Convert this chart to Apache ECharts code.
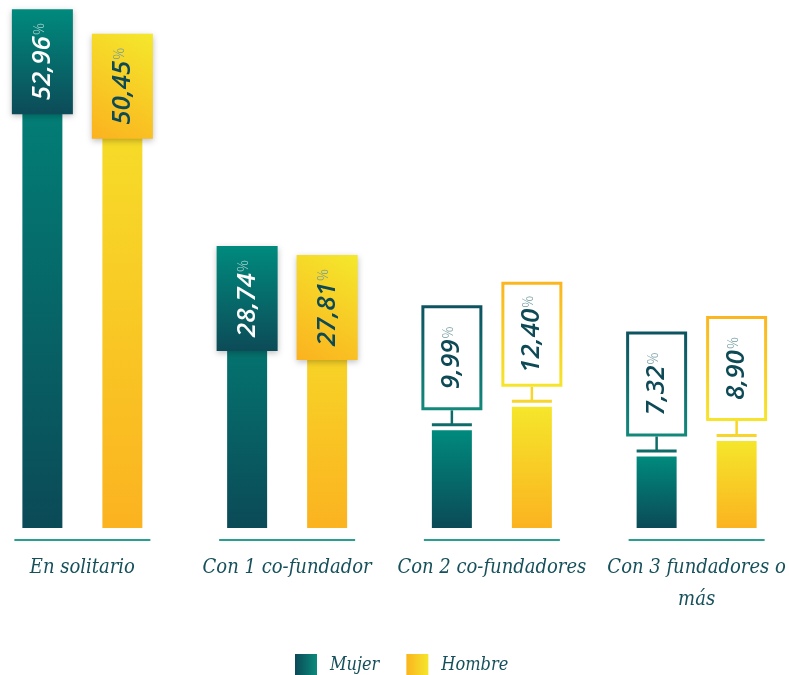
<!DOCTYPE html>
<html>
<head>
<meta charset="utf-8">
<title>Fundadores por género</title>
<script src="https://cdn.jsdelivr.net/npm/echarts@6/dist/echarts.min.js"></script>
<style>
    html, body { margin: 0; padding: 0; background: #fff; }
    #chart { width: 789px; height: 675px; }
</style>
</head>
<body>
<div id="chart"></div>
<script>
var categories = ['En solitario', 'Con 1 co-fundador', 'Con 2 co-fundadores', 'Con 3 fundadores o\nmás'];
var mujer = [52.96, 28.74, 9.99, 7.32];
var hombre = [50.45, 27.81, 12.40, 8.90];

var TEAL_TOP = '#008a7d', TEAL_BOT = '#0b4a57';
var YEL_TOP = '#f5e62b', YEL_BOT = '#fbb320';
var INK = '#16505b';
var SERIF = '"DejaVu Serif Condensed", "DejaVu Serif", serif';

function vgrad(a, b) {
    return new echarts.graphic.LinearGradient(0, 0, 0, 1, [{offset: 0, color: a}, {offset: 1, color: b}]);
}
function hgrad(a, b) {
    return new echarts.graphic.LinearGradient(0, 0, 1, 0, [{offset: 0, color: a}, {offset: 1, color: b}]);
}

function fmt(v) {
    return v.toFixed(2).replace('.', ',');
}

// value boxes drawn on top of / above each bar
function labelSeries(name, values, side) {
    var isM = side === 0;
    return {
        name: name,
        type: 'custom',
        z: 5,
        silent: true,
        data: values.map(function (v, i) { return [i, v]; }),
        renderItem: function (params, api) {
            var v = api.value(1);
            var p = api.coord([api.value(0), v]);
            var cx = p[0] + (isM ? -40 : 40);
            var top = p[1];
            var w = 61, h = 105;
            var filled = v > 20;
            var children = [];
            var boxY;
            if (filled) {
                boxY = top - 1;
                children.push({
                    type: 'rect',
                    shape: {x: cx - w / 2, y: boxY, width: w, height: h},
                    style: {
                        fill: isM ? vgrad('#008a7d', '#0c4b58')
                                  : new echarts.graphic.LinearGradient(1, 0, 0, 1, [{offset: 0, color: '#f4e82c'}, {offset: 1, color: '#fbb21f'}]),
                        shadowBlur: 6, shadowOffsetY: 2, shadowColor: 'rgba(0,0,0,0.25)'
                    }
                });
            } else {
                var bottom = top - 20;
                boxY = bottom - h;
                var lineCol = isM ? '#0f6b69' : '#f8d52a';
                children.push({
                    type: 'line',
                    shape: {x1: cx, y1: bottom, x2: cx, y2: top - 6},
                    style: {stroke: lineCol, lineWidth: 2.5}
                });
                children.push({
                    type: 'line',
                    shape: {x1: cx - 20, y1: top - 5.5, x2: cx + 20, y2: top - 5.5},
                    style: {stroke: lineCol, lineWidth: 3}
                });
                children.push({
                    type: 'rect',
                    shape: {x: cx - w / 2 + 1.5, y: boxY + 1.5, width: w - 3, height: h - 3},
                    style: {
                        fill: '#fff',
                        stroke: isM ? vgrad('#0d5360', '#12897b') : vgrad('#fbb520', '#f5e52b'),
                        lineWidth: 3
                    }
                });
            }
            var numCol = (filled && isM) ? '#ffffff' : '#0d4a56';
            var pctCol = (filled && isM) ? 'rgba(255,255,255,0.65)' : '#6f9a9e';
            children.push({
                type: 'text',
                x: cx,
                y: boxY + h / 2,
                rotation: Math.PI / 2,
                style: {
                    text: '{n|' + fmt(v) + '}{p|%}',
                    align: 'center',
                    verticalAlign: 'middle',
                    rich: {
                        n: {fontFamily: '"Open Sans", sans-serif', fontStyle: 'italic', fontWeight: 600, fontSize: 26, fill: numCol, verticalAlign: 'middle'},
                        p: {fontFamily: '"Open Sans", sans-serif', fontWeight: 300, fontSize: 15, fill: pctCol, verticalAlign: 'middle', padding: [0, 0, 6, 1]}
                    }
                }
            });
            return {type: 'group', children: children};
        }
    };
}

var chart = echarts.init(document.getElementById('chart'));

chart.setOption({
    animation: false,
    grid: {left: -20, right: -10, top: 0, bottom: 147, containLabel: false, outerBoundsMode: 'none'},
    legend: {
        left: 295,
        top: 654,
        padding: 0,
        itemWidth: 22,
        itemHeight: 22,
        itemGap: 27,
        icon: 'rect',
        textStyle: {fontFamily: SERIF, fontStyle: 'italic', fontSize: 18, color: INK, padding: [0, 0, 0, 8]},
        data: [
            {name: 'Mujer', itemStyle: {color: hgrad('#0b4a57', '#0a8a7c')}},
            {name: 'Hombre', itemStyle: {color: hgrad('#fbb41f', '#f4e62b')}}
        ]
    },
    xAxis: {
        type: 'category',
        data: categories,
        axisLine: {show: false},
        axisTick: {show: false},
        axisLabel: {
            margin: 24,
            fontFamily: SERIF,
            fontStyle: 'italic',
            fontSize: 20,
            lineHeight: 32,
            color: INK,
            interval: 0
        }
    },
    yAxis: {type: 'value', min: 0, max: 54, show: false},
    series: [
        {
            name: 'Mujer',
            type: 'bar',
            barWidth: 40,
            barGap: '100%',
            itemStyle: {color: vgrad(TEAL_TOP, TEAL_BOT)},
            data: mujer
        },
        {
            name: 'Hombre',
            type: 'bar',
            barWidth: 40,
            barGap: '100%',
            itemStyle: {color: vgrad(YEL_TOP, YEL_BOT)},
            data: hombre
        },
        labelSeries('Mujer', mujer, 0),
        labelSeries('Hombre', hombre, 1),
        {
            // teal baseline segment under each group
            type: 'custom',
            silent: true,
            data: categories.map(function (c, i) { return [i, 0]; }),
            renderItem: function (params, api) {
                var p = api.coord([api.value(0), 0]);
                return {
                    type: 'line',
                    shape: {x1: p[0] - 68, y1: p[1] + 12, x2: p[0] + 68, y2: p[1] + 12},
                    style: {stroke: '#2a9e90', lineWidth: 2}
                };
            }
        }
    ]
});
</script>
</body>
</html>
